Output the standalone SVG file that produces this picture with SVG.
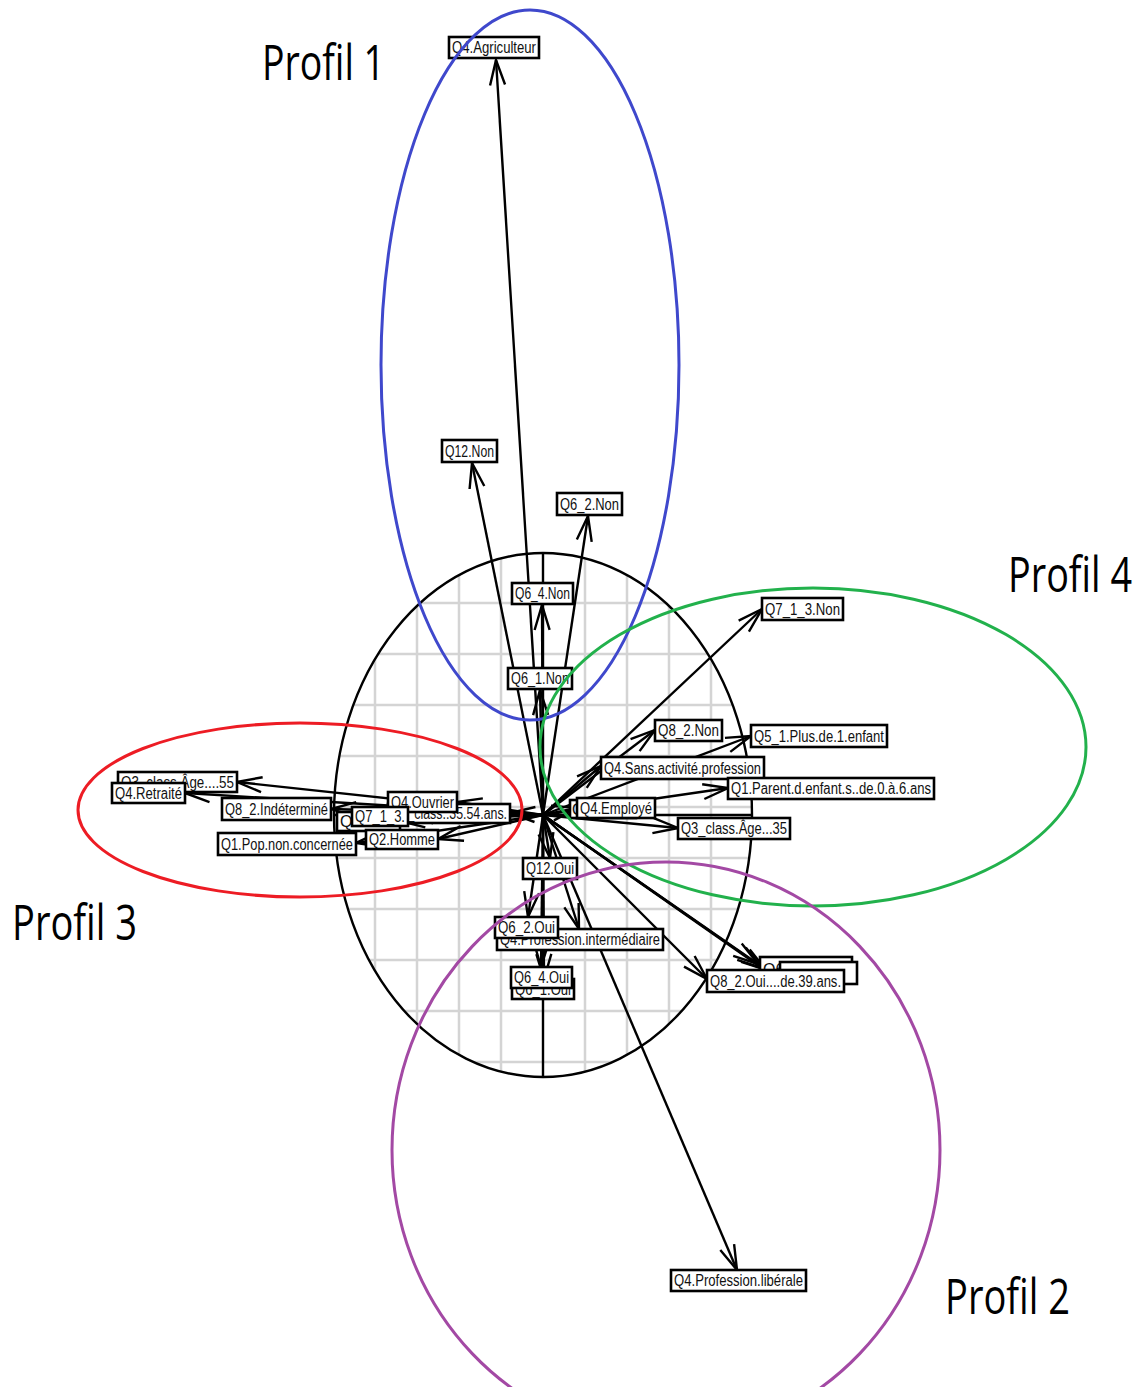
<svg xmlns="http://www.w3.org/2000/svg" width="1144" height="1387" viewBox="0 0 1144 1387">
<style>
.grid line{stroke:#d4d4d4;stroke-width:2.5}
.ax{stroke:#000;stroke-width:2.4;fill:none}
.arr line{stroke:#000;stroke-width:2.4;marker-end:url(#ah)}
.lb rect{fill:#fff;stroke:#000;stroke-width:2.6}
.lb text{font-family:"Liberation Sans",Arial,sans-serif;font-size:16px;fill:#111}
.pf{font-family:"Open Sans","Noto Sans",sans-serif;font-size:50px;fill:#000}
.el{fill:none;stroke-width:3}
</style>
<defs>
<marker id="ah" markerUnits="userSpaceOnUse" viewBox="-27 -10 29 20" refX="0" refY="0" markerWidth="29" markerHeight="20" orient="auto">
<path d="M-25,-7.5 L0,0 L-25,7.5" fill="none" stroke="#000" stroke-width="2.4"/>
</marker>
<clipPath id="cc"><ellipse cx="543" cy="815" rx="209" ry="262"/></clipPath>
</defs>
<rect width="1144" height="1387" fill="#fff"/>
<g class="grid" clip-path="url(#cc)">
<line x1="375" y1="540" x2="375" y2="1090"/><line x1="417" y1="540" x2="417" y2="1090"/><line x1="459" y1="540" x2="459" y2="1090"/><line x1="501" y1="540" x2="501" y2="1090"/>
<line x1="585" y1="540" x2="585" y2="1090"/><line x1="627" y1="540" x2="627" y2="1090"/><line x1="669" y1="540" x2="669" y2="1090"/><line x1="711" y1="540" x2="711" y2="1090"/>
<line x1="320" y1="603" x2="770" y2="603"/><line x1="320" y1="654" x2="770" y2="654"/><line x1="320" y1="705" x2="770" y2="705"/><line x1="320" y1="756" x2="770" y2="756"/>
<line x1="320" y1="807" x2="770" y2="807"/><line x1="320" y1="858" x2="770" y2="858"/><line x1="320" y1="909" x2="770" y2="909"/><line x1="320" y1="960" x2="770" y2="960"/>
<line x1="320" y1="1011" x2="770" y2="1011"/><line x1="320" y1="1062" x2="770" y2="1062"/>
</g>
<ellipse class="ax" cx="543" cy="815" rx="209" ry="262"/>
<line class="ax" x1="543" y1="553" x2="543" y2="1077"/>
<line class="ax" x1="334" y1="815" x2="752" y2="815"/>
<g id="connectors" class="arr">
<line x1="543" y1="815" x2="496" y2="60"/>
<line x1="543" y1="815" x2="472" y2="463"/>
<line x1="543" y1="815" x2="588" y2="516"/>
<line x1="543" y1="815" x2="542" y2="605"/>
<line x1="543" y1="815" x2="540" y2="690"/>
<line x1="543" y1="815" x2="762" y2="609"/>
<line x1="543" y1="815" x2="655" y2="730"/>
<line x1="543" y1="815" x2="751" y2="736"/>
<line x1="543" y1="815" x2="601" y2="766"/>
<line x1="543" y1="815" x2="728" y2="788"/>
<line x1="543" y1="815" x2="577" y2="808"/>
<line x1="543" y1="815" x2="678" y2="828"/>
<line x1="543" y1="815" x2="707" y2="979"/>
<line x1="543" y1="815" x2="758" y2="964"/>
<line x1="543" y1="815" x2="762" y2="968"/>
<line x1="543" y1="815" x2="766" y2="970"/>
<line x1="543" y1="815" x2="737" y2="1270"/>
<line x1="543" y1="815" x2="550" y2="858"/>
<line x1="543" y1="815" x2="528" y2="917"/>
<line x1="543" y1="815" x2="579" y2="929"/>
<line x1="543" y1="815" x2="541" y2="967"/>
<line x1="543" y1="815" x2="544" y2="979"/>
<line x1="543" y1="815" x2="237" y2="782"/>
<line x1="543" y1="815" x2="185" y2="793"/>
<line x1="543" y1="815" x2="331" y2="809"/>
<line x1="543" y1="815" x2="457" y2="802"/>
<line x1="543" y1="815" x2="408" y2="816"/>
<line x1="543" y1="815" x2="510" y2="813"/>
<line x1="543" y1="815" x2="438" y2="839"/>
<line x1="543" y1="815" x2="356" y2="843"/>
<line x1="543" y1="815" x2="400" y2="821"/>
</g>
<g id="n-agriculteur" class="lb"><rect x="449" y="37" width="90" height="21"/><text x="452" y="53" textLength="84" lengthAdjust="spacingAndGlyphs">Q4.Agriculteur</text></g>
<g id="n-q12non" class="lb"><rect x="442" y="440" width="55" height="22"/><text x="445" y="457" textLength="49" lengthAdjust="spacingAndGlyphs">Q12.Non</text></g>
<g id="n-q62non" class="lb"><rect x="557" y="493" width="65" height="22"/><text x="560" y="510" textLength="59" lengthAdjust="spacingAndGlyphs">Q6_2.Non</text></g>
<g id="n-q64non" class="lb"><rect x="512" y="583" width="61" height="21"/><text x="515" y="599" textLength="55" lengthAdjust="spacingAndGlyphs">Q6_4.Non</text></g>
<g id="n-q61non" class="lb"><rect x="508" y="668" width="64" height="21"/><text x="511" y="684" textLength="58" lengthAdjust="spacingAndGlyphs">Q6_1.Non</text></g>
<g id="n-q713non" class="lb"><rect x="762" y="598" width="81" height="22"/><text x="765" y="615" textLength="75" lengthAdjust="spacingAndGlyphs">Q7_1_3.Non</text></g>
<g id="n-q82non" class="lb"><rect x="655" y="720" width="67" height="21"/><text x="658" y="736" textLength="61" lengthAdjust="spacingAndGlyphs">Q8_2.Non</text></g>
<g id="n-q51plus" class="lb"><rect x="751" y="725" width="136" height="22"/><text x="754" y="742" textLength="130" lengthAdjust="spacingAndGlyphs">Q5_1.Plus.de.1.enfant</text></g>
<g id="n-q4sans" class="lb"><rect x="601" y="757" width="163" height="22"/><text x="604" y="774" textLength="157" lengthAdjust="spacingAndGlyphs">Q4.Sans.activité.profession</text></g>
<g id="n-q1parent" class="lb"><rect x="728" y="778" width="206" height="21"/><text x="731" y="794" textLength="200" lengthAdjust="spacingAndGlyphs">Q1.Parent.d.enfant.s..de.0.à.6.ans</text></g>
<g id="n-hidden-e" class="lb"><rect x="570" y="800" width="66" height="18"/><text x="572" y="815">Q</text></g>
<g id="n-q4employe" class="lb"><rect x="577" y="798" width="78" height="20"/><text x="580" y="814" textLength="72" lengthAdjust="spacingAndGlyphs">Q4.Employé</text></g>
<g id="n-q3age35" class="lb"><rect x="678" y="818" width="112" height="21"/><text x="681" y="834" textLength="106" lengthAdjust="spacingAndGlyphs">Q3_class.Âge...35</text></g>
<g id="n-hidden-a" class="lb"><rect x="760" y="957" width="92" height="23"/><text x="763" y="975">Q6</text></g>
<g id="n-hidden-b" class="lb"><rect x="780" y="962" width="77" height="22"/></g>
<g id="n-q82oui" class="lb"><rect x="707" y="970" width="137" height="22"/><text x="710" y="987" textLength="131" lengthAdjust="spacingAndGlyphs">Q8_2.Oui....de.39.ans.</text></g>
<g id="n-q4liberale" class="lb"><rect x="671" y="1270" width="135" height="21"/><text x="674" y="1286" textLength="129" lengthAdjust="spacingAndGlyphs">Q4.Profession.libérale</text></g>
<g id="n-q12oui" class="lb"><rect x="523" y="858" width="54" height="21"/><text x="526" y="874" textLength="48" lengthAdjust="spacingAndGlyphs">Q12.Oui</text></g>
<g id="n-q4inter" class="lb"><rect x="497" y="929" width="166" height="21"/><text x="500" y="945" textLength="160" lengthAdjust="spacingAndGlyphs">Q4.Profession.intermédiaire</text></g>
<g id="n-q62oui" class="lb"><rect x="495" y="917" width="63" height="21"/><text x="498" y="933" textLength="57" lengthAdjust="spacingAndGlyphs">Q6_2.Oui</text></g>
<g id="n-q61oui" class="lb"><rect x="512" y="979" width="62" height="20"/><text x="515" y="995" textLength="56" lengthAdjust="spacingAndGlyphs">Q6_1.Oui</text></g>
<g id="n-q64oui" class="lb"><rect x="511" y="967" width="61" height="21"/><text x="514" y="983" textLength="55" lengthAdjust="spacingAndGlyphs">Q6_4.Oui</text></g>
<g id="n-q3age55" class="lb"><rect x="118" y="772" width="119" height="20"/><text x="121" y="788" textLength="113" lengthAdjust="spacingAndGlyphs">Q3_class.Âge....55</text></g>
<g id="n-q4retraite" class="lb"><rect x="112" y="783" width="73" height="20"/><text x="115" y="799" textLength="67" lengthAdjust="spacingAndGlyphs">Q4.Retraité</text></g>
<g id="n-q82ind" class="lb"><rect x="222" y="798" width="109" height="22"/><text x="225" y="815" textLength="103" lengthAdjust="spacingAndGlyphs">Q8_2.Indéterminé</text></g>
<g id="n-q1pop" class="lb"><rect x="218" y="833" width="138" height="22"/><text x="221" y="850" textLength="132" lengthAdjust="spacingAndGlyphs">Q1.Pop.non.concernée</text></g>
<g id="n-hidden-q" class="lb"><rect x="337" y="812" width="63" height="19"/><text x="340" y="827">Q</text></g>
<g id="n-q3age3554" class="lb"><rect x="388" y="804" width="122" height="19"/><text x="391" y="819" textLength="116" lengthAdjust="spacingAndGlyphs">Q3_class..35.54.ans.</text></g>
<g id="n-q4ouvrier" class="lb"><rect x="388" y="792" width="69" height="20"/><text x="391" y="808" textLength="63" lengthAdjust="spacingAndGlyphs">Q4.Ouvrier</text></g>
<g id="n-q713" class="lb"><rect x="352" y="807" width="56" height="19"/><text x="355" y="822" textLength="50" lengthAdjust="spacingAndGlyphs">Q7_1_3.</text></g>
<g id="n-q2homme" class="lb"><rect x="366" y="830" width="72" height="19"/><text x="369" y="845" textLength="66" lengthAdjust="spacingAndGlyphs">Q2.Homme</text></g>
<ellipse class="el" cx="530" cy="365" rx="149" ry="355" stroke="#3f48cc"/>
<ellipse class="el" cx="813" cy="747" rx="273" ry="159" stroke="#22b14c"/>
<ellipse class="el" cx="300" cy="810" rx="222" ry="87" stroke="#ed1c24"/>
<ellipse class="el" cx="666" cy="1150" rx="274" ry="288" stroke="#a349a4"/>
<text class="pf" x="262" y="80" textLength="123" lengthAdjust="spacingAndGlyphs">Profil 1</text>
<text class="pf" x="1008" y="592" textLength="124" lengthAdjust="spacingAndGlyphs">Profil 4</text>
<text class="pf" x="12" y="940" textLength="125" lengthAdjust="spacingAndGlyphs">Profil 3</text>
<text class="pf" x="945" y="1314" textLength="125" lengthAdjust="spacingAndGlyphs">Profil 2</text>
</svg>
